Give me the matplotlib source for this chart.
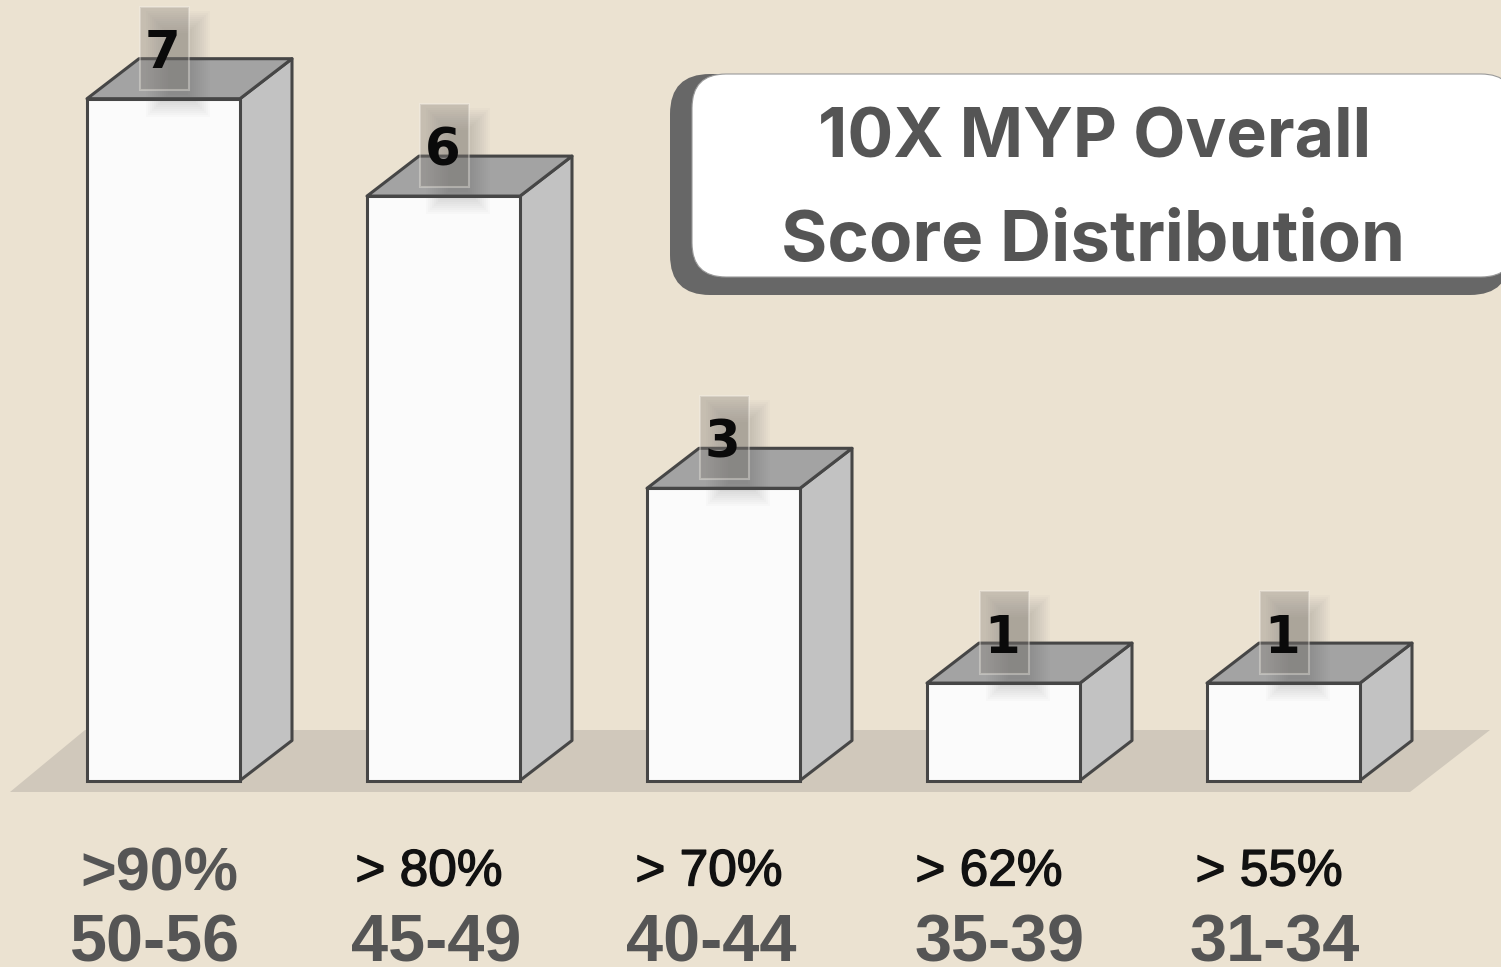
import matplotlib
matplotlib.use("Agg")
import matplotlib.pyplot as plt
import matplotlib.patheffects as pe
from matplotlib.patches import FancyBboxPatch, Polygon, Rectangle

categories = [">90%", "> 80%", "> 70%", "> 62%", "> 55%"]
score_ranges = ["50-56", "45-49", "40-44", "35-39", "31-34"]
counts = [7, 6, 3, 1, 1]
title_lines = ["10X MYP Overall", "Score Distribution"]

W, H = 1501, 967
PX_X = 280.0  # pixels per category
PX_Y = 97.4  # pixels per count
X0, Y0 = 163.5, 780.5  # pixel position of first category, baseline
BAR_W = 153 / PX_X
DX = 52 / PX_X
DY = 40 / PX_Y

BG = "#ebe2d1"
FLOOR = "#d0c8bb"
EDGE = "#464646"
TEXT = "#555555"
LW = 2.2

plt.rcParams["font.family"] = ["Liberation Sans", "DejaVu Sans"]

fig = plt.figure(figsize=(W / 100, H / 100), dpi=100, facecolor=BG)

# pixel axes for the backdrop and the text, data axes for the bars
deco = fig.add_axes([0, 0, 1, 1], zorder=1)
deco.set_xlim(0, W)
deco.set_ylim(H, 0)
deco.axis("off")

ax = fig.add_axes([0, 0, 1, 1], zorder=2)
ax.set_xlim(-X0 / PX_X, (W - X0) / PX_X)
ax.set_ylim((Y0 - H) / PX_Y, Y0 / PX_Y)
ax.axis("off")
ax.patch.set_alpha(0)

top = fig.add_axes([0, 0, 1, 1], zorder=3)
top.set_xlim(0, W)
top.set_ylim(H, 0)
top.axis("off")
top.patch.set_alpha(0)

deco.add_patch(Polygon([(10, 792), (1410, 792), (1490, 730), (85, 730)],
                       facecolor=FLOOR, edgecolor="none"))

# title panel, runs off the right side
deco.add_patch(FancyBboxPatch((710, 114), 760, 141,
                              boxstyle="round,pad=40,rounding_size=40",
                              facecolor="#676767", edgecolor="none"))
deco.add_patch(FancyBboxPatch((726, 108), 755, 135,
                              boxstyle="round,pad=34,rounding_size=34",
                              facecolor="white", edgecolor="#9a9a9a", linewidth=0.8))
deco.text(1095, 139, title_lines[0], ha="center", va="center", fontsize=49,
          fontweight="bold", color=TEXT, family=["Inter", "DejaVu Sans"])
deco.text(1093, 243, title_lines[1], ha="center", va="center", fontsize=51,
          fontweight="bold", color=TEXT, family=["Inter", "DejaVu Sans"])

xs = list(range(len(counts)))
ax.bar(xs, counts, width=BAR_W, color="#fbfbfb", edgecolor=EDGE, linewidth=LW, zorder=3)

for x, c in zip(xs, counts):
    r = x + BAR_W / 2
    l = x - BAR_W / 2
    ax.add_patch(Polygon([(r, 0), (r + DX, DY), (r + DX, c + DY), (r, c)],
                         facecolor="#c2c2c2", edgecolor=EDGE, linewidth=LW,
                         joinstyle="round", zorder=2))
    ax.add_patch(Polygon([(l, c), (l + DX, c + DY), (r + DX, c + DY), (r, c)],
                         facecolor="#a3a3a3", edgecolor=EDGE, linewidth=LW,
                         joinstyle="round", zorder=2))

    # translucent value tag with a soft shadow
    cx = X0 + x * PX_X
    ty = Y0 - c * PX_Y
    for grow in range(0, 24, 2):
        top.add_patch(Rectangle((cx - 18 + grow, ty - 88 + grow),
                                64 - 2 * grow, 106 - 2 * grow,
                                facecolor="#555555", alpha=0.022, edgecolor="none"))
    top.add_patch(Rectangle((cx - 24, ty - 92), 49, 83, facecolor="#85807a", alpha=0.36,
                            edgecolor="#f6f2ea", linewidth=1.5))
    top.text(cx - 1, ty - 50, str(c), ha="center", va="center_baseline", fontsize=37,
             fontweight="bold", color="#0a0a0a", family=["DejaVu Sans"])

label_x = [159, 429, 709, 989, 1269]
range_x = [155, 436, 711, 1000, 1275]
for i, (lab, rng) in enumerate(zip(categories, score_ranges)):
    if i == 0:
        deco.text(label_x[i], 875, lab, ha="center", va="center", fontsize=44,
                  fontweight="bold", color=TEXT)
    else:
        t = deco.text(label_x[i], 872, lab, ha="center", va="center", fontsize=37,
                      color="#111111")
        # the reference weight sits between regular and bold
        t.set_path_effects([pe.withStroke(linewidth=1.0, foreground="#111111")])
    deco.text(range_x[i], 945, rng, ha="center", va="center", fontsize=48,
              fontweight="bold", color=TEXT)

fig.savefig("out.png", dpi=100, facecolor=BG)
plt.close(fig)
